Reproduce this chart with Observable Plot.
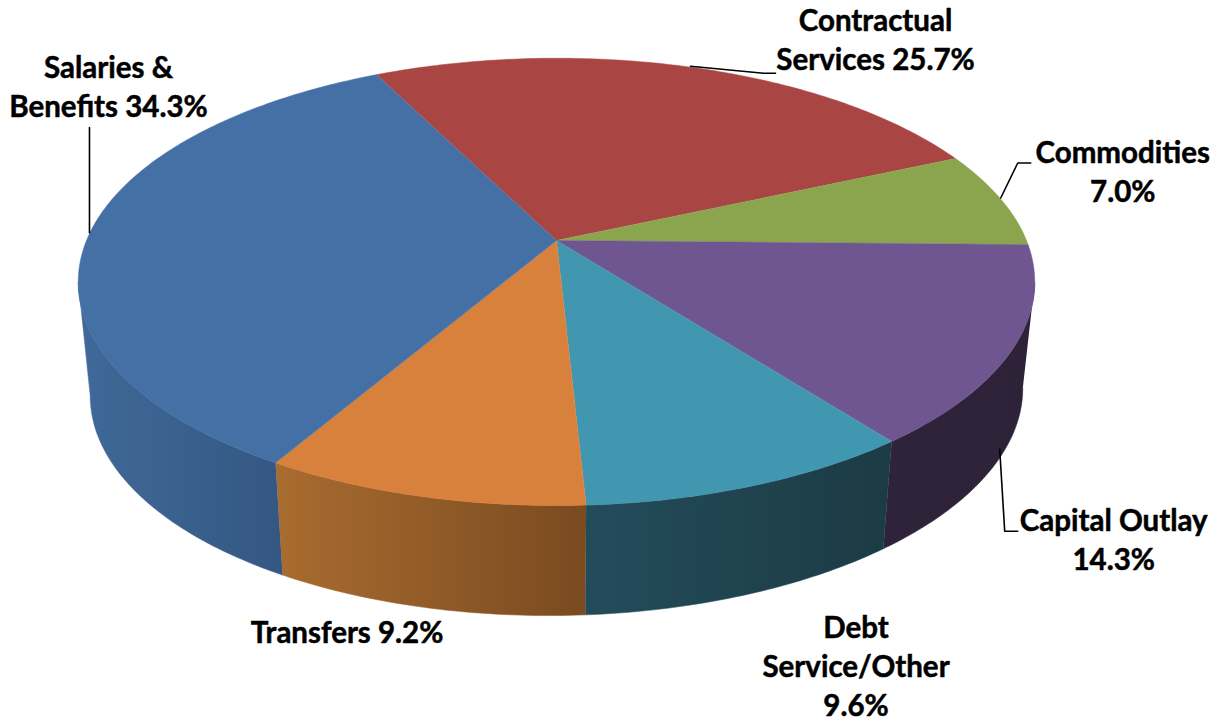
<!DOCTYPE html>
<html>
<head>
<meta charset="utf-8">
<script src="https://cdn.jsdelivr.net/npm/d3@7"></script>
<script src="https://cdn.jsdelivr.net/npm/@observablehq/plot@0.6"></script>
<style>
  html, body { margin: 0; padding: 0; background: #fff; overflow: hidden; }
  svg { display: block; }
</style>
</head>
<body>
<div id="chart"></div>
<script>
// Budget shares, clockwise from the back of the pie
const categories = ["Contractual Services", "Commodities", "Capital Outlay", "Debt Service/Other", "Transfers", "Salaries & Benefits"];
const shares = [25.7, 7.0, 14.3, 9.6, 9.2, 34.3];
const labelStems = ["Contractual\nServices ", "Commodities\n", "Capital Outlay\n", "Debt\nService/Other\n", "Transfers ", "Salaries &\nBenefits "];
const topColors = ["#a94543", "#8aa54d", "#705690", "#4196b0", "#d8813c", "#4570a6"];
const wallStops = [["#000", "#000"], ["#000", "#000"], ["#2f2339", "#2d2237"], ["#234c5b", "#1c3b44"], ["#a96c30", "#7a4a20"], ["#406999", "#345782"]];

// Camera for the tilted disc: a circle in perspective, far side shortened
const view = {cx: 556, cy: 240, rx: 470, ry: 216, k: 0.185, start: -26.5, thick: 110, shear: 0.008, shrink: 0.975};
const wallFrom = 100.66, wallTo = 259.34;

const rad = (deg) => (deg * Math.PI) / 180;
function rim(deg) {
  const u = Math.sin(rad(deg)), v = Math.cos(rad(deg)), d = 1 + view.k * v;
  return {x: view.cx + (view.rx * u) / d, y: view.cy - (view.ry * v) / d};
}
function lowerRim(deg) {
  const p = rim(deg);
  const x = view.cx + (p.x - view.cx) * view.shrink;
  return {x, y: p.y + view.thick - view.shear * (x - view.cx)};
}

// Slice spans in degrees, from the shares
const total = d3.sum(shares);
const cumulative = d3.cumsum(shares);
const slices = shares.map((s, i) => {
  const a1 = view.start + ((cumulative[i] - s) / total) * 360;
  const a2 = view.start + (cumulative[i] / total) * 360;
  return {i, name: categories[i], share: s, a1, a2, mid: (a1 + a2) / 2};
});
const arcAngles = (a, b) => [...d3.range(a, b, 0.75), b];

function topFace(s) {
  return [{x: view.cx, y: view.cy}, ...arcAngles(s.a1, s.a2).map(rim)];
}
function wallFace(s) {
  const a = Math.max(s.a1, wallFrom), b = Math.min(s.a2, wallTo);
  if (a >= b) return null;
  const angles = arcAngles(a, b);
  return [...angles.map(rim), ...angles.slice().reverse().map(lowerRim)];
}

// Side-wall shading runs left to right across each visible piece
function wallGradients() {
  const ns = "http://www.w3.org/2000/svg";
  const defs = document.createElementNS(ns, "defs");
  slices.forEach((s) => {
    const face = wallFace(s);
    if (!face) return;
    const g = document.createElementNS(ns, "linearGradient");
    g.setAttribute("id", `wall-${s.i}`);
    g.setAttribute("gradientUnits", "userSpaceOnUse");
    g.setAttribute("x1", d3.min(face, (d) => d.x));
    g.setAttribute("x2", d3.max(face, (d) => d.x));
    g.setAttribute("y1", 0);
    g.setAttribute("y2", 0);
    wallStops[s.i].forEach((c, j) => {
      const stop = document.createElementNS(ns, "stop");
      stop.setAttribute("offset", j);
      stop.setAttribute("stop-color", c);
      g.appendChild(stop);
    });
    defs.appendChild(g);
  });
  return defs;
}

// Callouts hang off the rim point at each slice's middle angle
const callouts = [
  {rimFn: rim, dx: 184, dy: -29, leader: [[-1, -1], [72, 6], [84, 6]]},
  {rimFn: rim, dx: 122, dy: -29, leader: [[0, -1], [17, -36], [30, -36]]},
  {rimFn: lowerRim, dx: 111, dy: 85, leader: [[-3, -4], [2, 78], [15, 78]]},
  {rimFn: lowerRim, dx: 108, dy: 70, leader: null},
  {rimFn: lowerRim, dx: -78, dy: 23, leader: null},
  {rimFn: rim, dx: 19, dy: -149, leader: [[0, -1], [0, -106]]}
];

const marks = [wallGradients];

slices.forEach((s) => {
  const face = wallFace(s);
  if (!face) return;
  const paint = `url(#wall-${s.i})`;
  marks.push(Plot.line(face, {x: "x", y: "y", fill: paint, stroke: paint, strokeWidth: 0.5}));
});

slices.forEach((s) => {
  const face = topFace(s);
  marks.push(Plot.line(face, {x: "x", y: "y", fill: topColors[s.i], stroke: topColors[s.i], strokeWidth: 0.5}));
});

slices.forEach((s) => {
  const c = callouts[s.i];
  const at = c.rimFn(s.mid);
  if (c.leader) {
    const path = c.leader.map(([ox, oy]) => ({x: at.x + ox, y: at.y + oy}));
    marks.push(Plot.line(path, {x: "x", y: "y", stroke: "#000", strokeWidth: 1.6}));
  }
  marks.push(Plot.text([s], {
    x: () => at.x,
    y: () => at.y,
    dx: c.dx,
    dy: c.dy,
    text: (d) => `${labelStems[d.i]}${d.share.toFixed(1)}%`,
    fill: "#000",
    stroke: "#000",
    strokeWidth: 0.5,
    fontSize: 29.5,
    fontWeight: 700,
    fontFamily: "Lato, sans-serif",
    lineHeight: 1.33,
    textAnchor: "middle",
    lineAnchor: "middle"
  }));
});

const chart = Plot.plot({
  width: 1220,
  height: 719,
  margin: 0,
  x: {domain: [0, 1220], range: [0, 1220], axis: null},
  y: {domain: [0, 719], range: [0, 719], axis: null},
  style: {background: "#fff"},
  marks
});
document.getElementById("chart").appendChild(chart);
</script>
</body>
</html>
